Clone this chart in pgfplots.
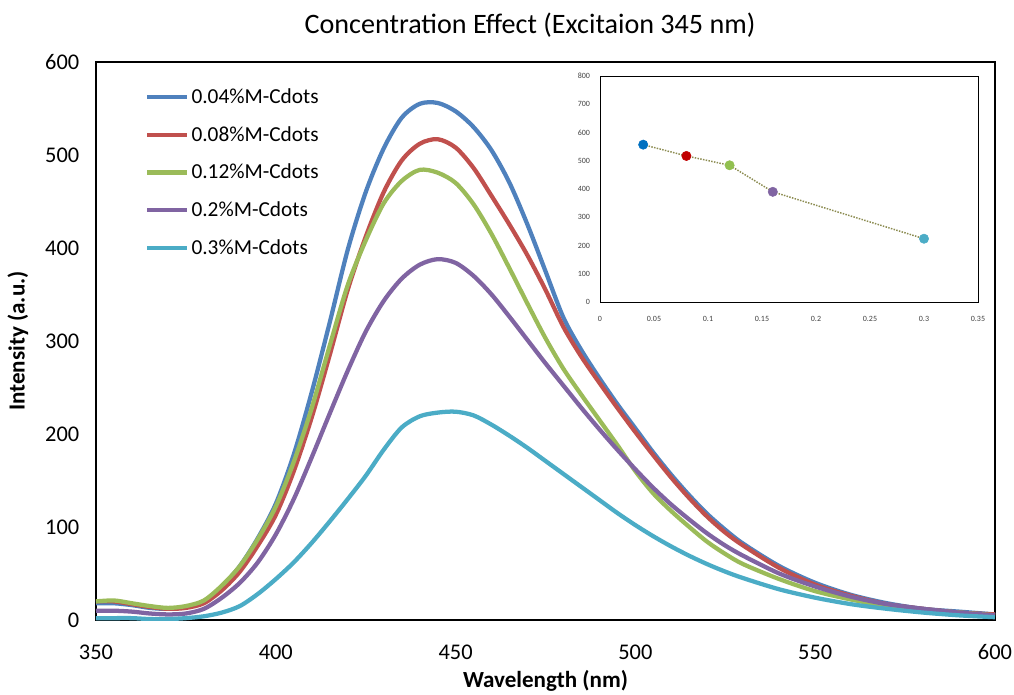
\documentclass[border=0pt]{standalone}
\usepackage{pgfplots}
\pgfplotsset{compat=1.18}
\usepackage{pgfplotstable}
\usepackage{fontspec}
\setmainfont{Carlito}
\definecolor{cblue}{HTML}{4F81BD}
\definecolor{cred}{HTML}{C0504D}
\definecolor{cgreen}{HTML}{9BBB59}
\definecolor{cpurple}{HTML}{8064A2}
\definecolor{ccyan}{HTML}{4BACC6}
\definecolor{iblue}{HTML}{0070C0}
\definecolor{ired}{HTML}{C00000}
\definecolor{igreen}{HTML}{92C050}
\definecolor{dotc}{HTML}{8B8B50}

\pgfplotstableread{
x y
350 18
355 18
360 16
365 13
370 12
375 14
380 20
385 36
390 58
395 88
400 125
405 178
410 245
415 320
420 398
425 460
430 507
435 540
440 555
445 556
450 547
455 530
460 505
465 470
470 425
475 375
480 325
485 290
490 260
495 232
500 206
505 180
510 156
515 134
520 114
525 97
530 82
540 58
550 40
560 27
570 18
580 12
590 9
600 6
}\tblue

\pgfplotstableread{
x y
350 20
355 20
360 17
365 14
370 12
375 13
380 18
385 32
390 52
395 80
400 113
405 160
410 218
415 285
420 355
425 412
430 460
435 494
440 512
445 517
450 508
455 486
460 456
465 425
470 392
475 355
480 315
485 283
490 255
495 228
500 202
505 177
510 153
515 131
520 111
525 94
530 80
540 56
550 38
560 26
570 17
580 12
590 8
600 6
}\tred

\pgfplotstableread{
x y
350 20
355 21
360 18
365 15
370 13
375 15
380 21
385 37
390 58
395 87
400 122
405 170
410 228
415 295
420 360
425 408
430 448
435 472
440 484
445 481
450 470
455 447
460 415
465 378
470 340
475 303
480 270
485 242
490 215
495 188
500 160
505 136
510 117
515 100
520 84
525 71
530 60
540 44
550 31
560 22
570 15
580 11
590 8
600 5
}\tgreen

\pgfplotstableread{
x y
350 10
355 10
360 9
365 7
370 6
375 7
380 12
385 24
390 40
395 62
400 92
405 130
410 175
415 222
420 268
425 310
430 343
435 367
440 382
445 388
450 384
455 370
460 350
465 326
470 301
475 276
480 252
485 228
490 205
495 183
500 162
505 142
510 124
515 108
520 93
525 80
530 69
540 50
550 36
560 25
570 17
580 12
590 8
600 5
}\tpurple

\pgfplotstableread{
x y
350 2
355 2
360 2
365 1
370 1
375 2
380 4
385 8
390 15
395 28
400 44
405 62
410 83
415 106
420 130
425 155
430 183
435 207
440 219
445 223
450 224
455 220
460 210
465 198
470 185
475 171
480 157
485 143
490 129
495 115
500 102
505 90
510 79
515 69
520 60
525 52
530 45
540 33
550 24
560 17
570 12
580 8
590 5
600 3
}\tcyan

\begin{document}
\begin{tikzpicture}
\useasboundingbox (-72pt,-55.5pt) rectangle (688.5pt,465pt);
\begin{axis}[
  at={(0pt,0pt)}, anchor=south west,
  scale only axis, width=674.25pt, height=418.5pt,
  xmin=350, xmax=600, ymin=0, ymax=600,
  xtick={350,400,450,500,550,600},
  ytick={0,100,200,300,400,500,600},
  major tick length=0pt,
  axis line style={line width=1.1pt},
  /pgf/number format/assume math mode=true,
  tick label style={font=\fontsize{16.8}{18}\selectfont},
  xticklabel style={yshift=-15pt},
  yticklabel style={xshift=-9pt},
  xlabel={\bfseries Wavelength (nm)},
  ylabel={\bfseries Intensity (a.u.)},
  xlabel style={font=\fontsize{17.3}{20}\selectfont, at={(axis description cs:0.5,-0.109)}, anchor=center},
  ylabel style={font=\fontsize{17.3}{20}\selectfont, at={(axis description cs:-0.0868,0.5)}, anchor=center},
  title={Concentration Effect (Excitaion 345 nm)},
  title style={font=\fontsize{21.1}{24}\selectfont, at={(axis description cs:0.4828,1.052)}, anchor=center},
  legend cell align=left,
  legend style={draw=none, fill=none, inner xsep=0pt, at={(axis description cs:0.0545,0.962)}, anchor=north west,
    font=\fontsize{16}{18}\selectfont, row sep=11.6pt, column sep=1pt, nodes={inner xsep=0.5pt}},
  legend image code/.code={\draw[#1] (0pt,0pt) -- (30pt,0pt);},
]
\addplot[cblue, line width=3.2pt, smooth] table[x=x,y=y] {\tblue};
\addlegendentry{0.04\%M-Cdots}
\addplot[cred, line width=3.2pt, smooth] table[x=x,y=y] {\tred};
\addlegendentry{0.08\%M-Cdots}
\addplot[cgreen, line width=3.2pt, smooth] table[x=x,y=y] {\tgreen};
\addlegendentry{0.12\%M-Cdots}
\addplot[cpurple, line width=3.2pt, smooth] table[x=x,y=y] {\tpurple};
\addlegendentry{0.2\%M-Cdots}
\addplot[ccyan, line width=3.2pt, smooth] table[x=x,y=y] {\tcyan};
\addlegendentry{0.3\%M-Cdots}
\end{axis}

\begin{axis}[
  at={(378pt,238.5pt)}, anchor=south west,
  scale only axis, width=283.5pt, height=169.5pt,
  xmin=0, xmax=0.35, ymin=0, ymax=800,
  xtick={0,0.05,0.1,0.15,0.2,0.25,0.3,0.35},
  xticklabels={0,0.05,0.1,0.15,0.2,0.25,0.3,0.35},
  ytick={0,100,200,300,400,500,600,700,800},
  major tick length=0pt,
  axis line style={line width=0.6pt},
  /pgf/number format/assume math mode=true,
  tick label style={font=\fontsize{6}{7}\selectfont, text=black!75},
  xticklabel style={yshift=-7pt},
  yticklabel style={xshift=-4pt},
  clip=false,
]
\addplot[dotc, densely dotted, line width=1.1pt] coordinates {(0.04,557) (0.08,517) (0.12,484) (0.16,390) (0.30,224)};
\addplot[only marks, mark=*, mark size=3.5pt, mark options={draw=iblue, fill=iblue}] coordinates {(0.04,557)};
\addplot[only marks, mark=*, mark size=3.5pt, mark options={draw=ired, fill=ired}] coordinates {(0.08,517)};
\addplot[only marks, mark=*, mark size=3.5pt, mark options={draw=igreen, fill=igreen}] coordinates {(0.12,484)};
\addplot[only marks, mark=*, mark size=3.5pt, mark options={draw=cpurple, fill=cpurple}] coordinates {(0.16,390)};
\addplot[only marks, mark=*, mark size=3.5pt, mark options={draw=ccyan, fill=ccyan}] coordinates {(0.30,224)};
\end{axis}
\end{tikzpicture}
\end{document}
